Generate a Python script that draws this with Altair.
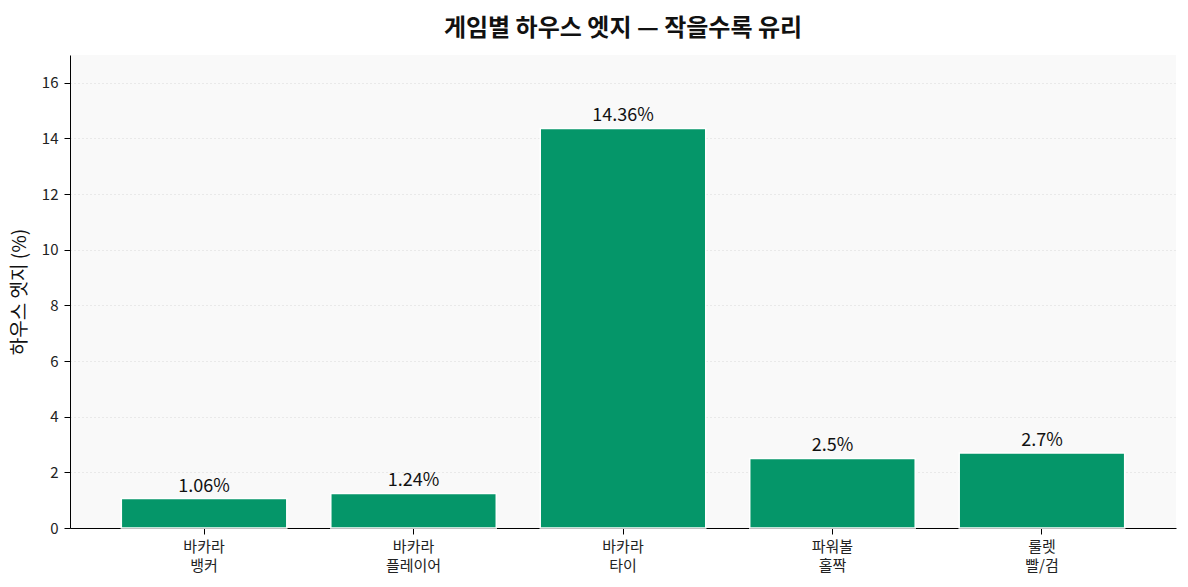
import altair as alt
import pandas as pd

games = ["바카라\n뱅커", "바카라\n플레이어", "바카라\n타이", "파워볼\n홀짝", "룰렛\n빨/검"]
edges = [1.06, 1.24, 14.36, 2.5, 2.7]
labels = ["1.06%", "1.24%", "14.36%", "2.5%", "2.7%"]

df = pd.DataFrame({"game": games, "edge": edges, "label": labels})

FONT = "Noto Sans CJK KR"

x = alt.X(
    "game:N",
    sort=games,
    title=None,
    scale=alt.Scale(paddingInner=0.21, paddingOuter=0.245),
    axis=alt.Axis(
        labelAngle=0,
        labelExpr="split(datum.label, '\\n')",
        labelFontSize=15,
        labelColor="#222222",
        labelFont=FONT,
        labelPadding=5,
        domainColor="#000000",
        tickColor="#000000",
        tickSize=6,
        grid=False,
        labelLineHeight=19,
    ),
)

y = alt.Y(
    "edge:Q",
    title="하우스 엣지 (%)",
    scale=alt.Scale(domain=[0, 17], nice=False),
    axis=alt.Axis(
        values=[0, 2, 4, 6, 8, 10, 12, 14, 16],
        labelFontSize=15,
        labelColor="#222222",
        labelFont=FONT,
        labelPadding=6,
        titleFont=FONT,
        titleFontSize=19,
        titleFontWeight="normal",
        titleColor="#111111",
        titlePadding=12,
        domainColor="#000000",
        tickColor="#000000",
        tickSize=6,
        gridColor="#d8d8d8",
        gridDash=[1, 3],
        gridWidth=1,
    ),
)

bars = alt.Chart(df).mark_bar(color="#059669", stroke="white", strokeWidth=1.5).encode(x=x, y=y)
text = alt.Chart(df).mark_text(
    baseline="bottom", dy=-3, fontSize=18, font=FONT, color="#111111"
).encode(x=x, y="edge:Q", text="label:N")

chart = (
    (bars + text)
    .properties(
        width=1106,
        height=473,
        autosize=alt.AutoSizeParams(type="none"),
        padding={"left": 70, "top": 55, "right": 12, "bottom": 59},
        title=alt.Title(
            "게임별 하우스 엣지 — 작을수록 유리",
            font=FONT,
            fontSize=24,
            fontWeight="bold",
            color="#111111",
            offset=14,
        ),
        background="white",
    )
    .configure_view(fill="#f9f9f9", stroke=None)
)

chart.save("out.html", embed_options={"renderer": "svg", "actions": False})
